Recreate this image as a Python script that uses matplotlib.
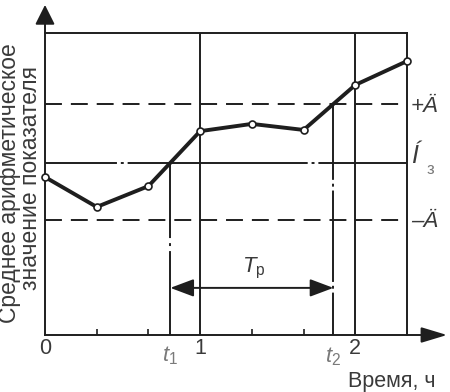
import numpy as np
import matplotlib.pyplot as plt

plt.rcParams['font.family'] = ['Liberation Sans', 'DejaVu Sans']
plt.rcParams['mathtext.fontset'] = 'custom'
plt.rcParams['mathtext.rm'] = 'Liberation Sans'
plt.rcParams['mathtext.it'] = 'Liberation Sans:italic'

# Values (time in hours, value in % of the frame height)
time_h = [0, 1/3, 2/3, 1, 4/3, 5/3, 2, 7/3]
mean_value = [52.3, 42.4, 49.3, 67.5, 69.9, 67.9, 82.8, 90.7]
upper_limit = 76.5   # +Ä
target = 57.0        # Í з
lower_limit = 38.1   # -Ä
t_max = 7/3
y_max = 100
tp_level = 15.6
minor_ticks = [1/3, 2/3, 4/3, 5/3]

# crossing times
t1 = np.interp(target, mean_value[2:4], time_h[2:4])
t2 = np.interp(upper_limit, mean_value[5:7], time_h[5:7])

ink = '#1e1e1e'
txt = '#3a3a3a'
grey = '#7a7a7a'
lw = 1.4

W, H = 450, 392
fig = plt.figure(figsize=(W / 100, H / 100), dpi=100)
ax = fig.add_axes([45 / W, 1 - 335 / H, 362 / W, 302 / H])
ax.set_xlim(0, t_max)
ax.set_ylim(0, y_max)

for s in ax.spines.values():
    s.set_color(ink)
    s.set_linewidth(lw)
ax.set_xticks([])
ax.set_yticks([])
ax.set_xticks(minor_ticks, minor=True)
ax.tick_params(axis='x', which='minor', direction='in', length=4, width=1.2, color=ink)

# hour lines
ax.axvline(1, color=ink, lw=lw)
ax.axvline(2, color=ink, lw=lw)

# limits and target
ax.axhline(upper_limit, color=ink, lw=lw, dashes=(8.7, 4.6))
ax.axhline(lower_limit, color=ink, lw=lw, dashes=(8.7, 4.6))
ax.axhline(target, color=ink, lw=lw, dashes=(37, 2, 1.5, 2, 92.6, 2, 1.5, 2, 206))

# t1 / t2 markers
ax.plot([t1, t1], [target, 0], color=ink, lw=lw, dashes=(38.6, 2.6, 1.5, 2.6, 103))
ax.plot([t2, t2], [upper_limit, 0], color=ink, lw=lw,
        dashes=(39, 2, 1.5, 2, 47, 2, 1.5, 2, 51))

# main curve
ax.plot(time_h, mean_value, color=ink, lw=2.8, marker='o', ms=5,
        mfc='white', mec=ink, mew=1.2, zorder=5, clip_on=False)

# Tp arrow
ax.annotate('', xy=(t2, tp_level), xytext=(t1, tp_level),
            arrowprops=dict(arrowstyle='<|-|>,head_length=0.48,head_width=0.18',
                            mutation_scale=30, lw=lw, color=ink,
                            shrinkA=0, shrinkB=0))
ax.text((t1 + t2) / 2 + 0.01, 22.0, r'$T_{\mathrm{р}}$', color=txt,
        fontsize=16, ha='center', va='center')

# axis arrows
ax.annotate('', xy=(0, 1.093), xytext=(0, 1), xycoords='axes fraction',
            arrowprops=dict(arrowstyle='-|>,head_length=0.4,head_width=0.2',
                            mutation_scale=30, lw=lw, color=ink,
                            shrinkA=0, shrinkB=0))
ax.annotate('', xy=(1.1105, 0), xytext=(1, 0), xycoords='axes fraction',
            arrowprops=dict(arrowstyle='-|>,head_length=0.53,head_width=0.16',
                            mutation_scale=30, lw=lw, color=ink,
                            shrinkA=0, shrinkB=0))

# x labels
tr = ax.get_xaxis_transform()
for x, lab in [(0, '0'), (1, '1'), (2, '2')]:
    ax.text(x, -0.045, lab, transform=tr, ha='center', va='center',
            fontsize=15.5, color=txt, clip_on=False)
ax.text(t1, -0.07, r'$t_1$', transform=tr, ha='center', va='center',
        fontsize=16, color=grey, clip_on=False)
ax.text(t2, -0.073, r'$t_2$', transform=tr, ha='center', va='center',
        fontsize=16, color=grey, clip_on=False)
fig.text(392 / W, 1 - 381 / H, 'Время, ч', ha='center', va='center',
         fontsize=15.5, color=txt)

# right labels
fig.text(411 / W, 1 - 106 / H, '+Ä', ha='left', va='center', fontsize=16,
         color=txt, style='italic')
fig.text(411 / W, 1 - 221 / H, '–Ä', ha='left', va='center', fontsize=16,
         color=txt, style='italic')
fig.text(411 / W, 1 - 156 / H, 'Í', ha='left', va='center', fontsize=18,
         color=txt, style='italic')
fig.text(427 / W, 1 - 169 / H, 'з', ha='left', va='center', fontsize=12, color=grey)

# y label (two lines)
fig.text(10 / W, 1 - 183 / H, 'Среднее арифметическое', rotation=90,
         ha='center', va='center', fontsize=16.5, color=txt)
fig.text(31 / W, 1 - 178 / H, 'значение показателя', rotation=90,
         ha='center', va='center', fontsize=16.5, color=txt)

fig.savefig('out.png', dpi=100)
